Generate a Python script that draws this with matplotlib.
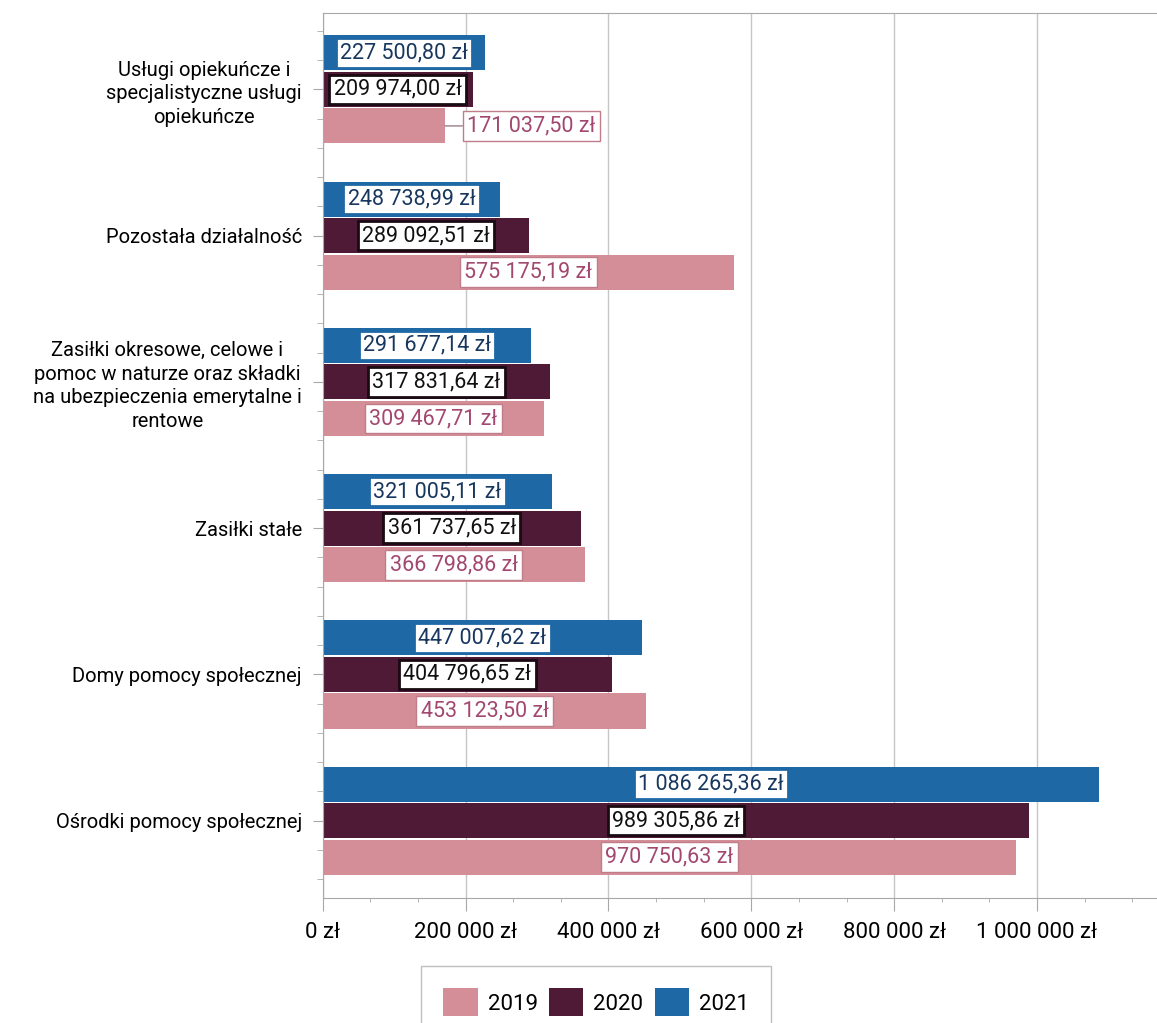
import numpy as np
import matplotlib
matplotlib.use("Agg")
import matplotlib.pyplot as plt
from matplotlib.ticker import FuncFormatter, MultipleLocator, FixedLocator

plt.rcParams['font.family'] = ['Roboto', 'DejaVu Sans']

# categories, top to bottom as in the chart
categories = [
    'Usługi opiekuńcze i\nspecjalistyczne usługi\nopiekuńcze',
    'Pozostała działalność',
    'Zasiłki okresowe, celowe i\npomoc w naturze oraz składki\nna ubezpieczenia emerytalne i\nrentowe',
    'Zasiłki stałe',
    'Domy pomocy społecznej',
    'Ośrodki pomocy społecznej',
]
years = ['2019', '2020', '2021']
v2019 = [171037.50, 575175.19, 309467.71, 366798.86, 453123.50, 970750.63]
v2020 = [209974.00, 289092.51, 317831.64, 361737.65, 404796.65, 989305.86]
v2021 = [227500.80, 248738.99, 291677.14, 321005.11, 447007.62, 1086265.36]

bar_colors = {'2019': '#d48e98', '2020': '#4e1a36', '2021': '#1f68a6'}
text_colors = {'2019': '#a2476f', '2020': '#111111', '2021': '#17375e'}
edge_colors = {'2019': '#c07c88', '2020': '#1a0a12', '2021': '#1f68a6'}
edge_lw = {'2019': 1.0, '2020': 2.0, '2021': 2.0}


def pl_money(v, decimals=2):
    s = f"{v:,.{decimals}f}"
    s = s.replace(',', ' ').replace('.', ',')
    return s + ' zł'


fig = plt.figure(figsize=(11.57, 10.23), dpi=100)
ax = fig.add_axes([0.279, 0.122, 0.721, 0.865])

n = len(categories)
ypos = np.arange(n)[::-1]  # first category on top
h = 0.24
offsets = {'2019': -0.25, '2020': 0.0, '2021': 0.25}
values = {'2019': v2019, '2020': v2020, '2021': v2021}

bars = {}
for yr in years:
    bars[yr] = ax.barh(ypos + offsets[yr], values[yr], height=h,
                       color=bar_colors[yr], label=yr, zorder=2)

# data labels (centred in bars; the first 2019 label is pushed out with a leader)
for yr in years:
    for i, v in enumerate(values[yr]):
        y = ypos[i] + offsets[yr]
        box = dict(boxstyle='square,pad=0.2', fc='white',
                   ec=edge_colors[yr], lw=edge_lw[yr])
        if yr == '2019' and i == 0:
            ax.annotate(pl_money(v), xy=(v, y), xytext=(16, 0),
                        textcoords='offset points', ha='left', va='center',
                        fontsize=15.5, color=text_colors[yr], bbox=box,
                        arrowprops=dict(arrowstyle='-', color='#9a8088', lw=1,
                                        shrinkA=0, shrinkB=0), zorder=4)
        else:
            ax.text(v / 2, y, pl_money(v), ha='center', va='center',
                    fontsize=15.5, color=text_colors[yr], bbox=box, zorder=4)

ax.set_xlim(0, 1168000)
ax.set_ylim(-0.53, n - 0.48)

ax.xaxis.set_major_locator(MultipleLocator(200000))
ax.xaxis.set_minor_locator(MultipleLocator(200000 / 3))
ax.xaxis.set_major_formatter(FuncFormatter(lambda x, p: pl_money(x, 0) if x <= 1000000 else ''))
ax.set_yticks(ypos)
ax.set_yticklabels(categories, fontsize=14.5, multialignment='center',
                   linespacing=1.3)
ax.yaxis.set_minor_locator(FixedLocator(
    [c + d for c in ypos for d in (-0.4, -0.2, 0.2, 0.4)]))

ax.tick_params(axis='x', which='major', length=9, color='#a8a8a8',
               labelsize=16, pad=8)
ax.tick_params(axis='x', which='minor', length=3, color='#a8a8a8')
ax.tick_params(axis='y', which='major', length=7, color='#a8a8a8', pad=8)
ax.tick_params(axis='y', which='minor', length=4, color='#a8a8a8')

ax.grid(axis='x', which='major', color='#c6c6c6', lw=1, zorder=0)
ax.set_axisbelow(True)
for side in ['left', 'bottom', 'top']:
    ax.spines[side].set_color('#a8a8a8')
ax.spines['right'].set_visible(False)

leg = fig.legend(handles=[bars[y] for y in years], labels=years,
                 loc='upper left', bbox_to_anchor=(410 / 1157, 1 - 955 / 1023),
                 ncol=3, fontsize=16, frameon=True, fancybox=False,
                 edgecolor='#b0b0b0', handlelength=1.55, handleheight=1.55,
                 handletextpad=0.45, columnspacing=0.5, borderpad=1.0)
leg.get_frame().set_linewidth(1.0)

fig.savefig('out.png', dpi=100)
